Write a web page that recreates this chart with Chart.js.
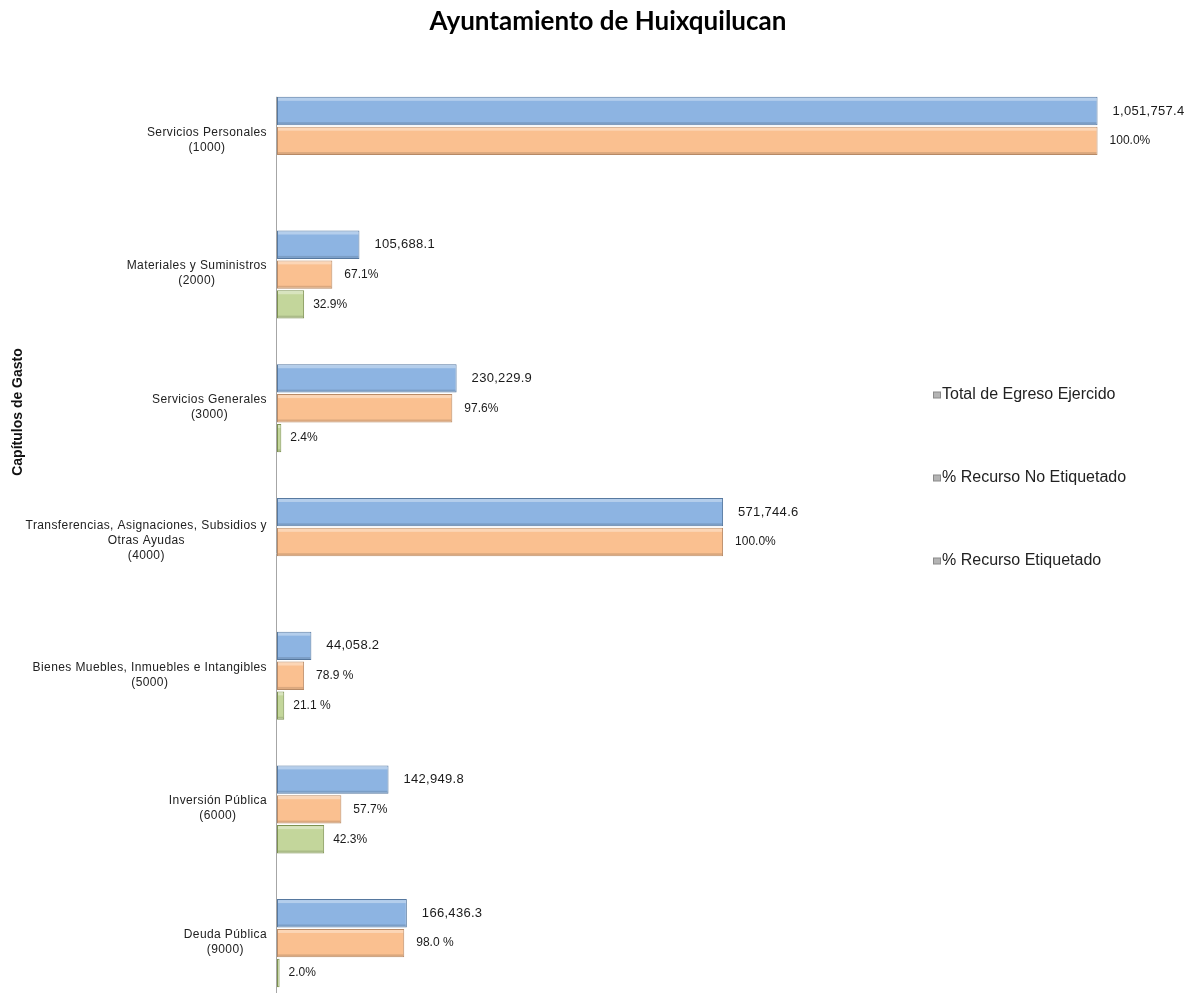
<!DOCTYPE html>
<html lang="es">
<head>
<meta charset="utf-8">
<title>Ayuntamiento de Huixquilucan</title>
<script src="https://cdn.jsdelivr.net/npm/chart.js@4.4.1/dist/chart.umd.min.js"></script>
<style>
  html, body { margin: 0; padding: 0; background: #fff; overflow: hidden; }
  #wrap { position: relative; width: 1190px; height: 1010px; }
</style>
</head>
<body>
<div id="wrap"><canvas id="chart"></canvas></div>
<script>
// Capitulos de gasto (y axis)
const categories = [
  ['Servicios Personales', '(1000)'],
  ['Materiales y Suministros', '(2000)'],
  ['Servicios Generales', '(3000)'],
  ['Transferencias, Asignaciones, Subsidios y', 'Otras Ayudas', '(4000)'],
  ['Bienes Muebles, Inmuebles e Intangibles', '(5000)'],
  ['Inversión Pública', '(6000)'],
  ['Deuda Pública', '(9000)']
];
const totalEgreso = [1051757.4, 105688.1, 230229.9, 571744.6, 44058.2, 142949.8, 166436.3];
const pctNoEtiquetado = [100.0, 67.1, 97.6, 100.0, 78.9, 57.7, 98.0];
const pctEtiquetado = [null, 32.9, 2.4, null, 21.1, 42.3, 2.0];
const noEtiquetadoLabels = ['100.0%', '67.1%', '97.6%', '100.0%', '78.9 %', '57.7%', '98.0 %'];
const etiquetadoLabels = ['', '32.9%', '2.4%', '', '21.1 %', '42.3%', '2.0%'];
const seriesNames = ['Total de Egreso Ejercido', '% Recurso No Etiquetado', '% Recurso Etiquetado'];

const FONT = '"Liberation Sans", Arial, sans-serif';
const fills = ['#8db4e2', '#fac090', '#c3d69b'];
const borders = ['#56789f', '#b88a66', '#7d9150'];

// percent bars are drawn as share of the chapter total
const share = (pcts) => pcts.map((p, i) => p == null ? null : totalEgreso[i] * p / 100);

const fmt = v => v.toLocaleString('en-US', { minimumFractionDigits: 1, maximumFractionDigits: 1 });
const valueLabels = [totalEgreso.map(fmt), noEtiquetadoLabels, etiquetadoLabels];
const labelOffsets = [15, 12, 9];
const labelFonts = ['13px ' + FONT, '12px ' + FONT, '12px ' + FONT];

const decorations = {
  id: 'decorations',
  afterDatasetsDraw(chart) {
    const ctx = chart.ctx;
    const xs = chart.scales.x, ys = chart.scales.y;
    const area = chart.chartArea;
    ctx.save();

    // soft bevel on each bar
    chart.data.datasets.forEach((ds, d) => {
      chart.getDatasetMeta(d).data.forEach((bar, i) => {
        if (ds.data[i] == null) return;
        const top = bar.y - bar.height / 2, left = bar.base, w = bar.x - bar.base;
        if (w < 4) return;
        ctx.fillStyle = 'rgba(255,255,255,0.35)';
        ctx.fillRect(left + 1, top + 1, w - 2, 3);
        ctx.fillStyle = 'rgba(0,0,0,0.12)';
        ctx.fillRect(left + 1, top + bar.height - 3, w - 2, 2);
      });
    });

    // axis line
    const first = chart.getDatasetMeta(0).data[0];
    const x0 = Math.round(xs.getPixelForValue(0)) - 0.5;
    ctx.strokeStyle = '#a6a6a6';
    ctx.lineWidth = 1;
    ctx.beginPath();
    ctx.moveTo(x0, first.y - first.height / 2);
    ctx.lineTo(x0, area.bottom);
    ctx.stroke();

    // bar value labels
    ctx.fillStyle = '#1a1a1a';
    ctx.textBaseline = 'middle';
    ctx.textAlign = 'left';
    chart.data.datasets.forEach((ds, d) => {
      ctx.font = labelFonts[d];
      ctx.letterSpacing = d === 0 ? '0.3px' : '0px';
      chart.getDatasetMeta(d).data.forEach((bar, i) => {
        if (ds.data[i] == null) return;
        ctx.fillText(valueLabels[d][i], bar.x + labelOffsets[d], bar.y);
      });
    });

    // category labels: block right-aligned, lines centred
    ctx.font = '12px ' + FONT;
    ctx.letterSpacing = '0.4px';
    ctx.fillStyle = '#222';
    ctx.textAlign = 'center';
    categories.forEach((lines, i) => {
      const yc = ys.getPixelForValue(i) - 1;
      const w = Math.max(...lines.map(l => ctx.measureText(l).width));
      const cx = area.left - 10 - w / 2;
      lines.forEach((l, j) => {
        ctx.fillText(l, cx, yc + (j - (lines.length - 1) / 2) * 15);
      });
    });
    ctx.letterSpacing = '0px';

    // axis title
    ctx.save();
    ctx.translate(18, 412);
    ctx.rotate(-Math.PI / 2);
    ctx.font = 'bold 14px ' + FONT;
    ctx.fillStyle = '#111';
    ctx.fillText('Capítulos de Gasto', 0, 0);
    ctx.restore();

    // chart title
    ctx.font = 'bold 26px Lato, "Open Sans", sans-serif';
    ctx.fillStyle = '#000';
    ctx.fillText('Ayuntamiento de Huixquilucan', 608, 22);

    // legend
    ctx.font = '16px ' + FONT;
    ctx.textAlign = 'left';
    seriesNames.forEach((name, k) => {
      const y = 395 + k * 83;
      ctx.fillStyle = '#b4b4b4';
      ctx.fillRect(933.5, y - 3, 7, 6);
      ctx.strokeStyle = '#8a8a8a';
      ctx.strokeRect(933.5, y - 3, 7, 6);
      ctx.fillStyle = '#222';
      ctx.fillText(name, 942, y);
    });
    ctx.restore();
  }
};

const ctx = document.getElementById('chart').getContext('2d');
new Chart(ctx, {
  type: 'bar',
  data: {
    labels: categories,
    datasets: [
      { label: seriesNames[0], data: totalEgreso },
      { label: seriesNames[1], data: share(pctNoEtiquetado) },
      { label: seriesNames[2], data: share(pctEtiquetado) }
    ].map((ds, k) => Object.assign(ds, {
      backgroundColor: fills[k],
      borderColor: borders[k],
      borderWidth: 1,
      borderSkipped: false,
      categoryPercentage: 0.67,
      barPercentage: 0.95
    }))
  },
  options: {
    indexAxis: 'y',
    responsive: true,
    maintainAspectRatio: false,
    animation: false,
    layout: { padding: { top: 74, right: 8, bottom: 0, left: 0 } },
    plugins: {
      legend: { display: false },
      title: { display: false },
      tooltip: { enabled: false }
    },
    scales: {
      x: { type: 'linear', min: 0, max: 1160000, display: false },
      y: {
        type: 'category',
        grid: { display: false },
        border: { display: false },
        ticks: { display: false },
        afterFit: s => { s.width = 277; }
      }
    }
  },
  plugins: [decorations]
});
</script>
</body>
</html>
